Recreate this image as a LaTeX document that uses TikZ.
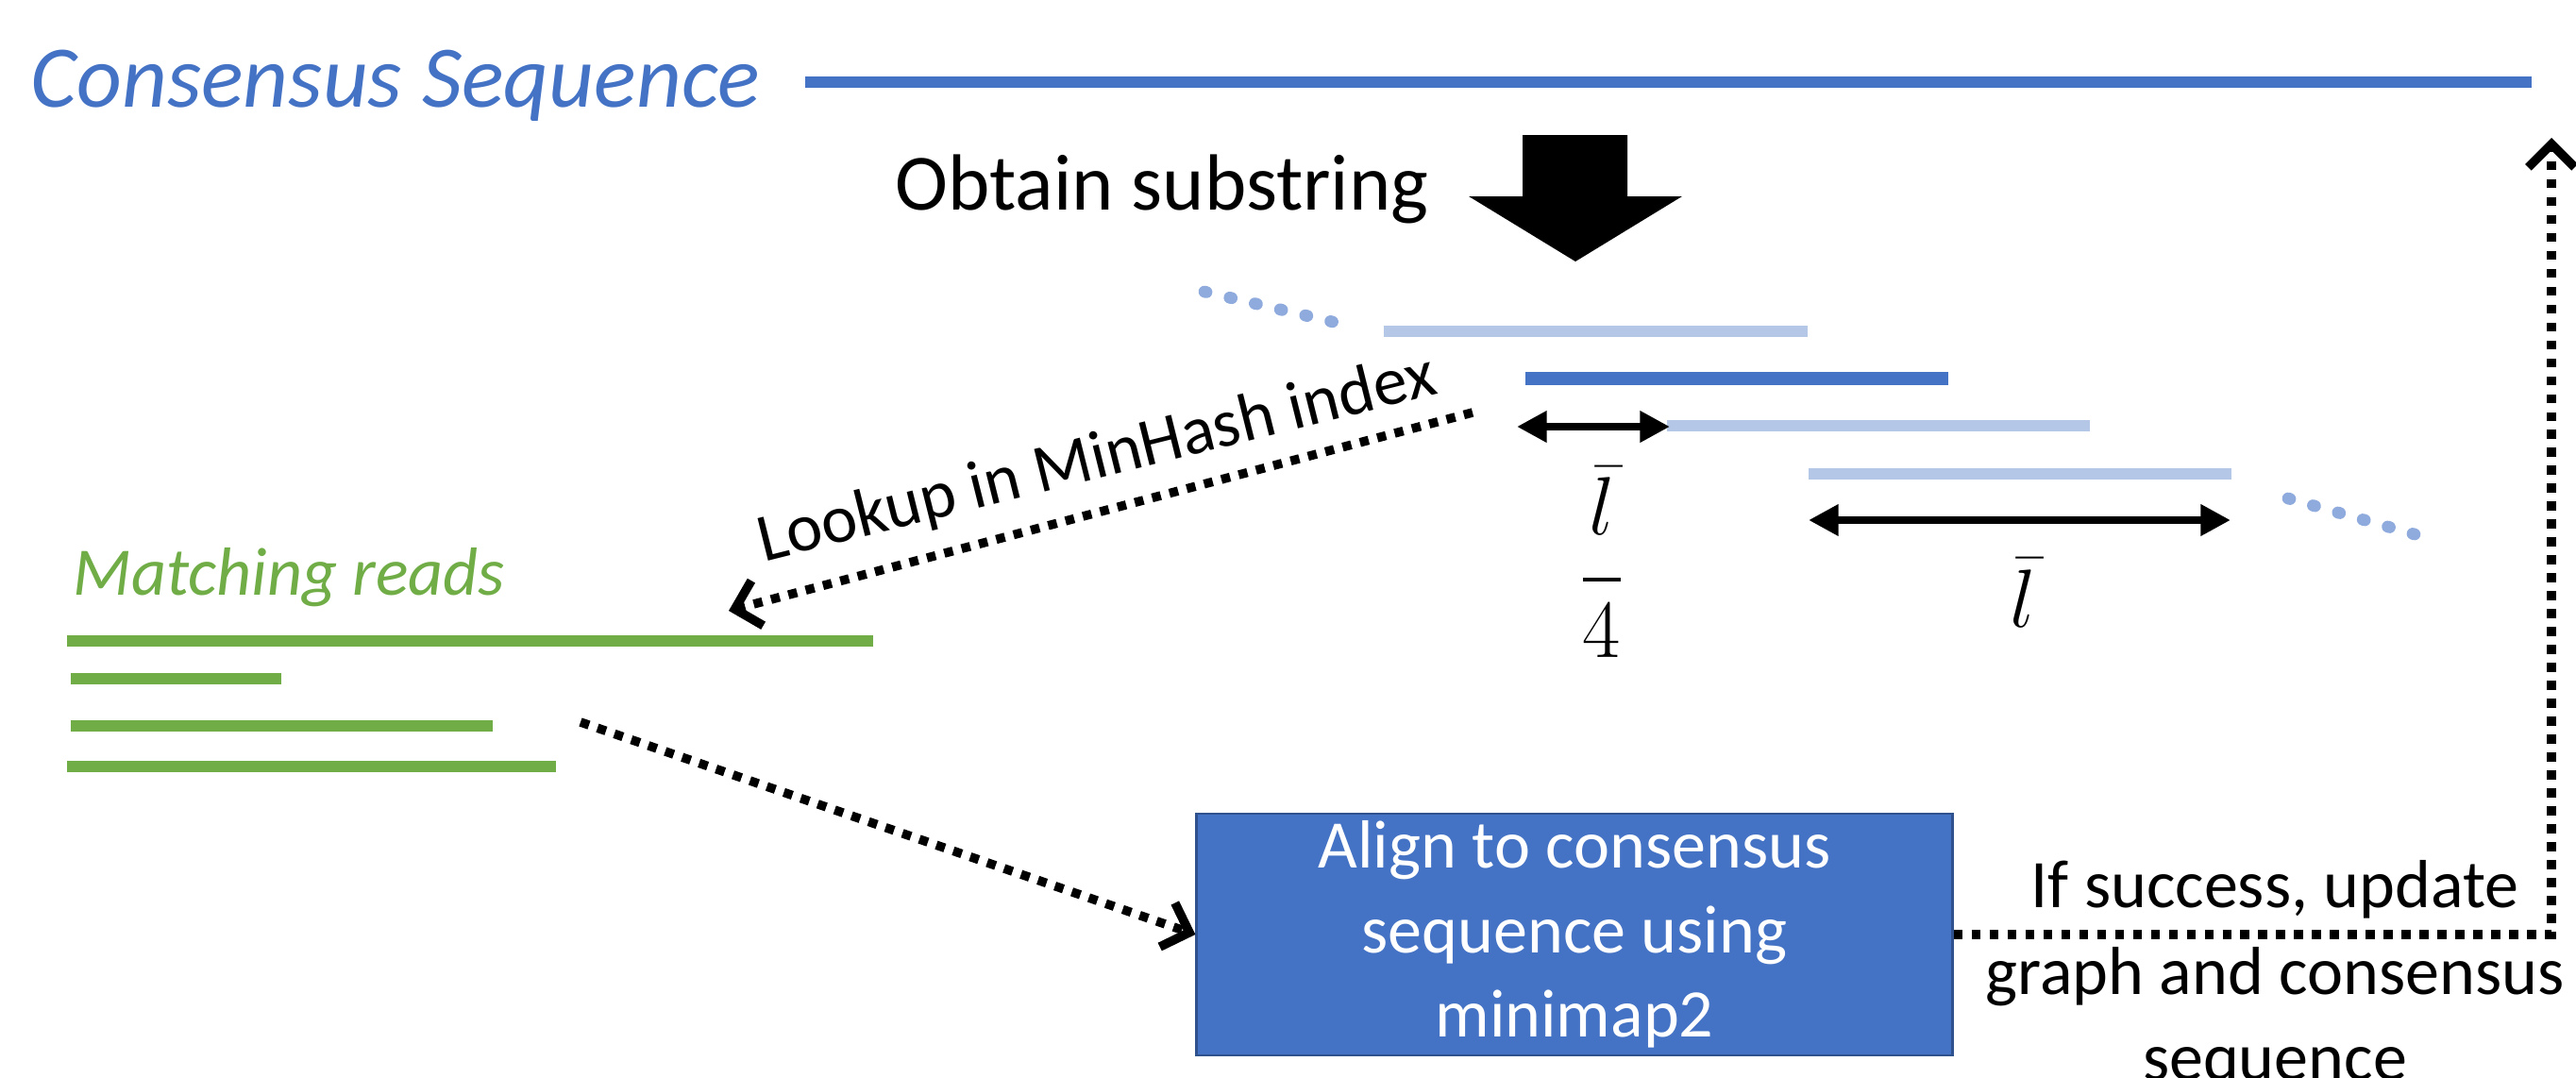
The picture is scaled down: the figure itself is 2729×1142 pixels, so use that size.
\documentclass[tikz,border=0pt]{standalone}
\usepackage{amsmath}
\usepackage{fontspec}
\setmainfont{Carlito}
\usepackage{tikz}
\usetikzlibrary{arrows.meta}
\definecolor{seqblue}{RGB}{68,114,196}
\definecolor{winblue}{RGB}{180,199,231}
\definecolor{dotblue}{RGB}{143,170,220}
\definecolor{readgreen}{RGB}{112,173,71}
\definecolor{boxedge}{RGB}{47,82,143}

\begin{document}
\begin{tikzpicture}[
    x=0.01cm, y=-0.01cm,
    title/.style={anchor=base west, inner sep=0pt, font=\fontsize{25.5}{30}\selectfont},
    note/.style={inner sep=0pt, font=\fontsize{20.5}{26}\selectfont, align=center},
    seqline/.style={line width=3.4pt, draw=seqblue},
    window/.style={line width=3.2pt, draw=winblue},
    readline/.style={line width=3.4pt, draw=readgreen},
    dots/.style={line width=3.6pt, draw=dotblue, line cap=round, dash pattern=on 0.6pt off 7.2pt},
    flow/.style={line width=2.7pt, dash pattern=on 2.7pt off 2.7pt,
      -{Straight Barb[length=7pt, width=14pt]}},
    dimarrow/.style={line width=2.4pt,
      {Triangle[length=9pt, width=9pt]}-{Triangle[length=9pt, width=9pt]}},
    mathlabel/.style={inner sep=0pt, anchor=base, font=\fontsize{26}{30}\selectfont}
  ]
  \useasboundingbox (0,0) rectangle (2729,1142);

  % consensus sequence on top
  \node[title, font=\fontsize{26.5}{31}\selectfont\itshape, text=seqblue] (seqlabel) at (32,113) {Consensus Sequence};
  \coordinate (seqstart) at (853,87);
  \coordinate (seqend)   at (2682,87);
  \draw[seqline] (seqstart) -- (seqend);

  \node[title, font=\fontsize{24}{28}\selectfont] (obtain) at (948,222) {Obtain substring};
  \fill (1613,143) -- (1724,143) -- (1724,208) -- (1782,208) -- (1669,277)
    -- (1556,208) -- (1613,208) -- cycle;

  % sliding windows
  \draw[dots] (1276,309) -- (1412,341);
  \draw[window] (1466,351) -- (1915,351);
  \draw[seqline, line width=4pt] (1616,401) -- (2064,401);
  \draw[window] (1766,451) -- (2214,451);
  \draw[window] (1916,502) -- (2364,502);
  \draw[dots] (2424,528) -- (2558,566);

  \coordinate (stepl) at (1607,452);
  \coordinate (stepr) at (1769,452);
  \draw[dimarrow] (stepl) -- (stepr);
  \node[mathlabel] (steplabel) at (1697,636)
    {$\displaystyle\frac{\raisebox{3pt}{$\bar{l}$}}{4}$};

  \coordinate (winl) at (1916,551);
  \coordinate (winr) at (2363,551);
  \draw[dimarrow] (winl) -- (winr);
  \node[mathlabel] (winlabel) at (2143,664) {$\bar{l}$};

  % reads found in the index
  \node[title, font=\fontsize{20.5}{25}\selectfont\itshape, text=readgreen] (readlabel) at (77,630) {Matching reads};
  \draw[readline] (71,679) -- (925,679);
  \draw[readline] (75,719) -- (298,719);
  \draw[readline] (75,769) -- (522,769);
  \draw[readline] (71,812) -- (589,812);

  \coordinate (lookfrom) at (1560,437);
  \coordinate (lookto)   at (772,647);
  \draw[flow] (lookfrom) -- (lookto);
  \node[note, rotate=14, anchor=base] (lookup) at (1167,506) {Lookup in MinHash index};

  \node[note, draw=boxedge, line width=0.8pt, fill=seqblue, text=white,
    minimum width=8cm, minimum height=2.56cm, font=\fontsize{20.5}{25.5}\selectfont]
    (align) at (1668,990) {Align to consensus\\sequence using\\minimap2};

  \coordinate (readsout) at (615,765);
  \draw[flow] (readsout) -- (align.west);

  \node[note] (update) at (2410,1034) {If success, update\\graph and consensus\\sequence};
  \coordinate (seqhit) at (2703,146);
  \draw[flow] (align.east) -| (seqhit);
\end{tikzpicture}
\end{document}
